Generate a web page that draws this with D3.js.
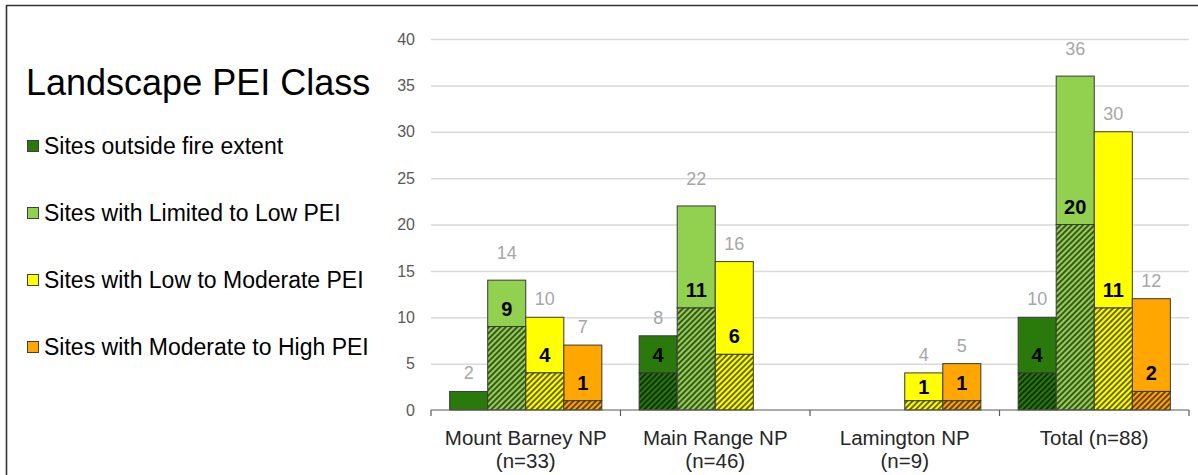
<!DOCTYPE html>
<html lang="en">
<head>
  <meta charset="UTF-8">
  <title>Landscape PEI Class</title>
  <script src="https://d3js.org/d3.v7.min.js"></script>
  <style>
    body { margin: 0; background: #fff; }
    svg { display: block; font-family: 'Liberation Sans', Arial, sans-serif; }
  </style>
</head>
<body>
<script>
  const parks = ['Mount Barney NP', 'Main Range NP', 'Lamington NP', 'Total (n=88)'];
  const parkN = ['(n=33)', '(n=46)', '(n=9)', ''];
  const classes = [
    'Sites outside fire extent',
    'Sites with Limited to Low PEI',
    'Sites with Low to Moderate PEI',
    'Sites with Moderate to High PEI'
  ];
  // sites per class (rows) for each park (columns), null = no bar
  const siteCounts = [
    [2, 8, null, 10],
    [14, 22, null, 36],
    [10, 16, 4, 30],
    [7, null, 5, 12]
  ];
  // hatched part of each bar (the bold number)
  const hatchedCounts = [
    [null, 4, null, 4],
    [9, 11, null, 20],
    [4, 6, 1, 11],
    [1, null, 1, 2]
  ];
  const yTicks = [0, 5, 10, 15, 20, 25, 30, 35, 40];

  const colors = ['#2a790b', '#92d050', '#ffff00', '#ffa600'];
  const totalLift = [18, 27, 18, 18];

  const width = 1198;
  const height = 475;
  const margin = { top: 39, right: 9, bottom: 65, left: 431 };

  const svg = d3.select('body').append('svg')
    .attr('width', width)
    .attr('height', height)
    .attr('viewBox', [0, 0, width, height]);

  // frame (only top + left edges are visible in the picture)
  svg.append('path')
    .attr('d', `M6.5,${height} V5.5 H${width}`)
    .attr('fill', 'none')
    .attr('stroke', '#333')
    .attr('stroke-width', 1.6);

  const defs = svg.append('defs');
  colors.forEach((c, i) => {
    const p = defs.append('pattern')
      .attr('id', 'hatch' + i)
      .attr('patternUnits', 'userSpaceOnUse')
      .attr('width', 4).attr('height', 4)
      .attr('patternTransform', 'rotate(45)');
    p.append('rect').attr('width', 4).attr('height', 4).attr('fill', c);
    p.append('line')
      .attr('x1', 1).attr('y1', 0).attr('x2', 1).attr('y2', 4)
      .attr('stroke', '#000').attr('stroke-opacity', 0.9).attr('stroke-width', 1.3);
  });

  const y = d3.scaleLinear()
    .domain([0, 40])
    .range([height - margin.bottom, margin.top]);

  const x = d3.scaleBand()
    .domain(parks)
    .range([margin.left, width - margin.right]);

  const xs = d3.scaleBand()
    .domain(d3.range(classes.length))
    .range([0, x.bandwidth()])
    .paddingOuter(0.49);

  // gridlines + y labels
  svg.append('g')
    .attr('transform', `translate(${margin.left},0)`)
    .call(d3.axisLeft(y).tickValues(yTicks).tickSize(0).tickPadding(16))
    .call(g => g.select('.domain').remove())
    .call(g => g.selectAll('.tick text')
      .attr('fill', '#595959')
      .style('font-size', '16px')
      .style('font-family', "'Liberation Sans', Arial, sans-serif"))
    .call(g => g.selectAll('.tick').filter(d => d > 0).append('line')
      .attr('x2', width - margin.right - margin.left)
      .attr('stroke', '#d9d9d9')
      .attr('stroke-width', 1.5));

  const bars = [];
  classes.forEach((c, s) => {
    parks.forEach((p, j) => {
      const v = siteCounts[s][j];
      if (v == null) return;
      bars.push({ s, park: p, total: v, hatched: hatchedCounts[s][j] });
    });
  });

  const g = svg.append('g');
  const bx = d => x(d.park) + xs(d.s);

  // solid part
  g.selectAll('rect.solid')
    .data(bars)
    .join('rect')
    .attr('class', 'solid')
    .attr('x', bx)
    .attr('width', xs.bandwidth())
    .attr('y', d => y(d.total))
    .attr('height', d => y(d.hatched || 0) - y(d.total))
    .attr('fill', d => colors[d.s])
    .attr('stroke', '#3a3a3a')
    .attr('stroke-width', 1);

  // hatched part
  g.selectAll('rect.hatch')
    .data(bars.filter(d => d.hatched))
    .join('rect')
    .attr('class', 'hatch')
    .attr('x', bx)
    .attr('width', xs.bandwidth())
    .attr('y', d => y(d.hatched))
    .attr('height', d => y(0) - y(d.hatched))
    .attr('fill', d => `url(#hatch${d.s})`)
    .attr('stroke', '#3a3a3a')
    .attr('stroke-width', 1);

  // totals (gray)
  g.selectAll('text.total')
    .data(bars)
    .join('text')
    .attr('class', 'total')
    .attr('x', d => bx(d) + xs.bandwidth() / 2)
    .attr('y', d => y(d.total) - totalLift[d.s])
    .attr('text-anchor', 'middle')
    .attr('dominant-baseline', 'central')
    .attr('fill', '#a6a6a6')
    .style('font-size', '18px')
    .text(d => d.total);

  // hatched count (bold), near base of solid part
  g.selectAll('text.hc')
    .data(bars.filter(d => d.hatched))
    .join('text')
    .attr('class', 'hc')
    .attr('x', d => bx(d) + xs.bandwidth() / 2)
    .attr('y', d => Math.max((y(d.hatched) + y(d.total)) / 2, y(d.hatched) - 18))
    .attr('text-anchor', 'middle')
    .attr('dominant-baseline', 'central')
    .attr('fill', '#000')
    .style('font-size', '20px')
    .style('font-weight', 'bold')
    .text(d => d.hatched);

  // x axis
  const xAxis = svg.append('g')
    .attr('transform', `translate(0,${y(0)})`);
  xAxis.append('line')
    .attr('x1', margin.left).attr('x2', width - margin.right)
    .attr('stroke', '#595959').attr('stroke-width', 1.2);
  xAxis.selectAll('line.tk')
    .data(parks.concat(['end']))
    .join('line')
    .attr('class', 'tk')
    .attr('x1', (d, i) => i < parks.length ? x(d) : x.range()[1])
    .attr('x2', (d, i) => i < parks.length ? x(d) : x.range()[1])
    .attr('y2', 6)
    .attr('stroke', '#595959').attr('stroke-width', 1.2);
  const labels = xAxis.selectAll('text')
    .data(parks)
    .join('text')
    .attr('x', d => x(d) + x.bandwidth() / 2)
    .attr('text-anchor', 'middle')
    .attr('fill', '#262626')
    .style('font-size', '20.5px');
  labels.append('tspan').attr('x', d => x(d) + x.bandwidth() / 2).attr('y', 35).text(d => d);
  labels.append('tspan').attr('x', d => x(d) + x.bandwidth() / 2).attr('y', 58).text((d, i) => parkN[i]);

  // title + legend
  svg.append('text')
    .attr('x', 26).attr('y', 95)
    .attr('fill', '#000')
    .style('font-size', '36px')
    .text('Landscape PEI Class');

  const legend = svg.append('g').selectAll('g')
    .data(classes)
    .join('g')
    .attr('transform', (d, i) => `translate(27,${146 + i * 67})`);
  legend.append('rect')
    .attr('x', 0.5).attr('y', -5.5)
    .attr('width', 11).attr('height', 11)
    .attr('fill', (d, i) => colors[i])
    .attr('stroke', '#404040').attr('stroke-width', 1);
  legend.append('text')
    .attr('x', 17)
    .attr('dominant-baseline', 'central')
    .attr('fill', '#000')
    .style('font-size', '23px')
    .text(d => d);
</script>
</body>
</html>
